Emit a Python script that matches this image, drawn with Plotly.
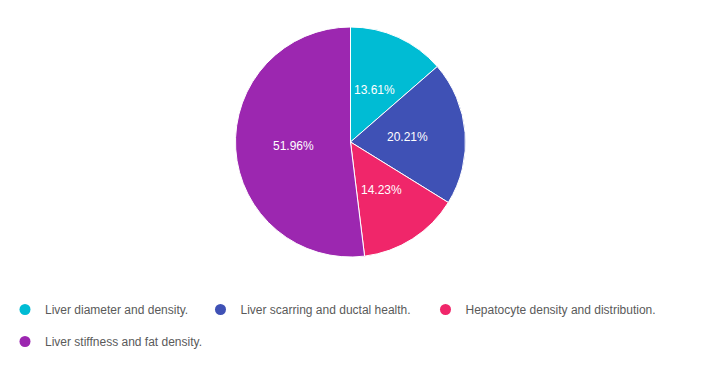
import math
import plotly.graph_objects as go

labels = ["Liver diameter and density.", "Liver scarring and ductal health.",
          "Hepatocyte density and distribution.", "Liver stiffness and fat density."]
values = [13.61, 20.21, 14.23, 51.96]
colors = ["#00BCD4", "#3F51B5", "#F0266A", "#9C27B0"]

W, H = 701, 371
OFF = 8  # page body margin
CX, CY, R = 350.5 - OFF, 142 - OFF, 115
FONT = "Liberation Sans, Arial, sans-serif"

fig = go.Figure()
fig.add_trace(go.Pie(
    labels=labels, values=values, sort=False, direction="clockwise", rotation=0,
    marker=dict(colors=colors, line=dict(color="white", width=1)),
    textinfo="none", showlegend=False,
    hovertemplate="%{label}<br>%{value:.2f}%<extra></extra>",
    domain=dict(x=[(CX - R) / W, (CX + R) / W], y=[1 - (CY + R) / H, 1 - (CY - R) / H]),
))

# percentage labels at half radius, slice mid-angle (clockwise from 12 o'clock)
total = sum(values)
cum = 0.0
for v in values:
    mid = (cum + v / 2) / total * 2 * math.pi
    cum += v
    px = CX + 0.5 * R * math.sin(mid)
    py = CY - 0.5 * R * math.cos(mid)
    fig.add_annotation(x=px / W, y=1 - py / H, xref="paper", yref="paper",
                       xanchor="center", yanchor="middle",
                       text=f"{v:.2f}%", showarrow=False,
                       font=dict(family=FONT, size=12, color="white"))

legend_names = ["legend", "legend2", "legend3", "legend4"]
for lab, col, lg in zip(labels, colors, legend_names):
    fig.add_trace(go.Scatter(
        x=[None], y=[None], mode="markers", name=lab,
        marker=dict(symbol="circle", size=11, color=col),
        legend=lg,
    ))

common = dict(orientation="h", xanchor="left", yanchor="middle",
              font=dict(family=FONT, size=12, color="#5a5a5a"),
              bgcolor="rgba(0,0,0,0)", itemclick=False, itemdoubleclick=False)
leg_x = [0, 192.5, 417.5, 0]
leg_y = [301.5, 301.5, 301.5, 333.5]
leg_indent = [-3, 0, 0, -3]
layout_legends = {name: dict(x=x / W, y=1 - y / H, indentation=ind, **common)
                  for name, x, y, ind in zip(legend_names, leg_x, leg_y, leg_indent)}

fig.update_layout(
    width=W, height=H, margin=dict(l=0, r=0, t=0, b=0),
    paper_bgcolor="white", plot_bgcolor="white",
    xaxis=dict(visible=False), yaxis=dict(visible=False),
    **layout_legends,
)
fig.write_html("out.html")
